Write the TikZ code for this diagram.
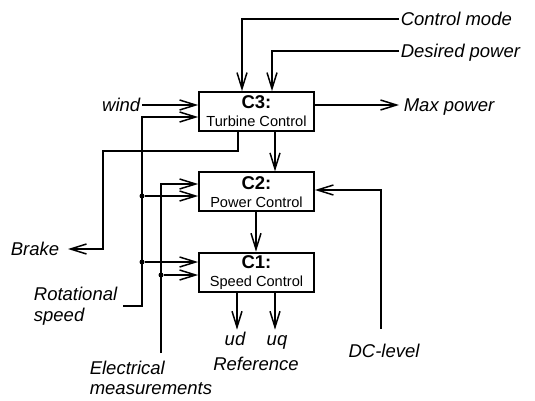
\documentclass[tikz,border=0pt]{standalone}
\usepackage{fontspec}
\setmainfont{Liberation Sans}
\usetikzlibrary{positioning,arrows.meta}

\newcommand{\boxtitle}[1]{{\fontsize{18.5}{18}\selectfont\bfseries #1}}

\begin{document}
\begin{tikzpicture}[
    x=1pt, y=-1pt,
    node distance=39.5pt,
    line width=1.6pt,
    box/.style={draw, line width=1.8pt, minimum height=39pt, minimum width=115pt, inner sep=1pt, align=center, font=\fontsize{14.6}{18}\selectfont},
    lbl/.style={font=\fontsize{18.5}{21}\selectfont\itshape, inner sep=1pt, text height=13.5pt, text depth=0.5pt},
    lbltwo/.style={font=\fontsize{18.5}{20.5}\selectfont\itshape, inner sep=1pt, align=left},
    arr/.style={-{Straight Barb[length=16pt,width=10pt,line width=1.5pt]}},
    dot/.style={circle, fill, inner sep=0pt, minimum size=5pt}
]
\useasboundingbox (0,0) rectangle (535,401);
\node[box] (turbine) at (256.5,111.5) {\boxtitle{C3:}\\Turbine Control};
\node[box, below=of turbine] (power) {\boxtitle{C2:}\\Power Control};
\node[box, below=of power] (speed) {\boxtitle{C1:}\\Speed Control};
\node[lbl, anchor=west] (mode) at (399,19) {Control mode};
\node[lbl, anchor=west] (desired) at (399,51) {Desired power};
\node[lbl, anchor=east] (wind) at (142,105) {wind};
\node[lbl, anchor=west, inner xsep=4pt] (maxp) at (399,105) {Max power};
\node[lbl, anchor=east, inner xsep=8pt] (brake) at (68,249) {Brake};
\node[lbltwo, anchor=east, inner xsep=5pt] (rot) at (123,306) {Rotational\\speed};
\node[lbltwo, anchor=north west, inner ysep=7pt] (elec) at (88,353) {Electrical\\measurements};
\node[lbl, anchor=base] (dc) at (384,357) {DC-level};
\node[lbl, anchor=base] (ud) at (235,345) {ud};
\node[lbl, anchor=base] (uq) at (277,345) {uq};
\node[lbl, anchor=base] (ref) at (256,370) {Reference};
\coordinate (rtop) at (142,117);
\coordinate (etop) at (161,184);
\coordinate (bk) at (103,151);
\coordinate (dcbus) at (381,190);
\node[dot] (rj1) at (142,196) {};
\node[dot] (rj2) at (142,262) {};
\node[dot] (ej1) at (161,275) {};
% inputs of the turbine controller
\draw[arr] (mode.west) -| ([xshift=-14.5pt]turbine.north);
\draw[arr] (desired.west) -| ([xshift=15.5pt]turbine.north);
\draw[arr] (wind.east) -- (wind.east -| turbine.west);
\draw[arr] (turbine.east |- maxp.west) -- (maxp.west);
\draw[arr] ([xshift=-18.5pt]turbine.south) |- (bk) |- (brake.east);
% measurement buses
\draw[arr] (rot.east) -| (rtop) -- (rtop -| turbine.west);
\draw[arr] (rj1) -- (rj1 -| power.west);
\draw[arr] (rj2) -- (rj2 -| speed.west);
\draw[arr] (elec.north -| etop) -- (etop) -- (etop -| power.west);
\draw[arr] (ej1) -- (ej1 -| speed.west);
\draw[arr, shorten <=13pt] (dc.north -| dcbus) -- (dcbus) -- (dcbus -| power.east);
% cascade and outputs
\draw[arr] ([xshift=18.5pt]turbine.south) -- ([xshift=18.5pt]power.north);
\draw[arr] ([xshift=-0.5pt]power.south) -- ([xshift=-0.5pt]speed.north);
\draw[arr] ([xshift=-19.5pt]speed.south) -- ([xshift=-19.5pt]speed.south |- ud.north);
\draw[arr] ([xshift=18.5pt]speed.south) -- ([xshift=18.5pt]speed.south |- uq.north);
\end{tikzpicture}
\end{document}
